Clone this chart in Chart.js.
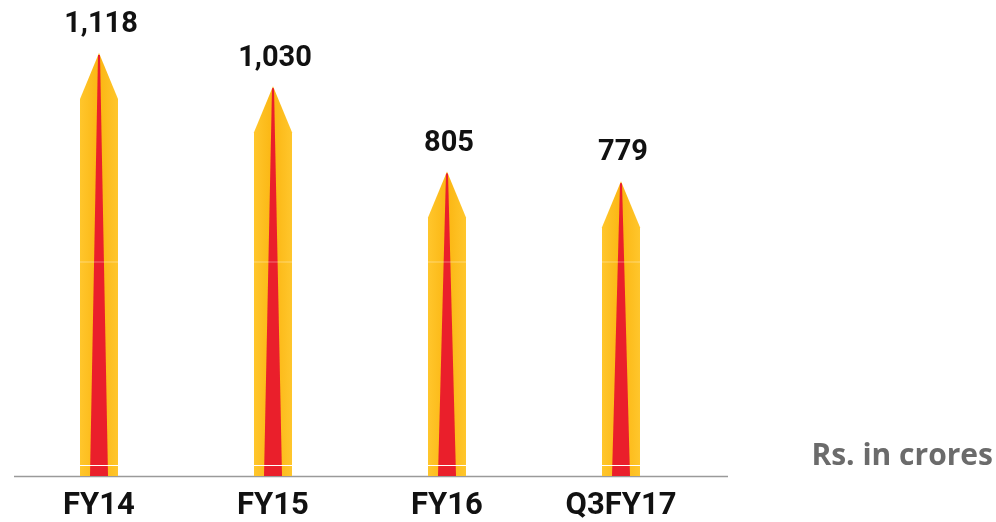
<!DOCTYPE html>
<html>
<head>
<meta charset="utf-8">
<script src="https://cdn.jsdelivr.net/npm/chart.js@4"></script>
<style>
  html, body { margin: 0; padding: 0; background: #fff; }
  #wrap { width: 996px; height: 522px; position: relative; }
</style>
</head>
<body>
<div id="wrap"><canvas id="myChart" width="996" height="522"></canvas></div>
<script>
var periods = ["FY14", "FY15", "FY16", "Q3FY17"];
var amounts = [1118, 1030, 805, 779];
var valueLabels = ["1,118", "1,030", "805", "779"];
var unitNote = "Rs. in crores";

// draws each bar as a pencil: yellow body, pointed top, red core
var pencilBars = {
    id: "pencilBars",
    afterDatasetsDraw: function (chart) {
        var ctx = chart.ctx;
        var meta = chart.getDatasetMeta(0);
        var area = chart.chartArea;
        ctx.save();
        // base line
        ctx.strokeStyle = "#9a9a9a";
        ctx.lineWidth = 1.5;
        ctx.beginPath();
        ctx.moveTo(14, area.bottom + 0.5);
        ctx.lineTo(728, area.bottom + 0.5);
        ctx.stroke();

        meta.data.forEach(function (bar, i) {
            var p = bar.getProps(["x", "y", "base", "width"], true);
            var half = p.width / 2;
            var tipH = 46;
            var shoulder = p.y + tipH;
            var left = p.x - half, right = p.x + half;

            var grad = ctx.createLinearGradient(left, 0, right, 0);
            grad.addColorStop(0, "#ffc62c");
            grad.addColorStop(0.5, "#fbb612");
            grad.addColorStop(1, "#ffc62c");
            ctx.fillStyle = grad;
            ctx.beginPath();
            ctx.moveTo(left, p.base);
            ctx.lineTo(left, shoulder);
            ctx.lineTo(p.x, p.y);
            ctx.lineTo(right, shoulder);
            ctx.lineTo(right, p.base);
            ctx.closePath();
            ctx.fill();

            // red core
            ctx.fillStyle = "#ea1f2b";
            ctx.beginPath();
            ctx.moveTo(p.x - 9, p.base);
            ctx.lineTo(p.x - 1, p.y + 2);
            ctx.lineTo(p.x + 1, p.y + 2);
            ctx.lineTo(p.x + 9, p.base);
            ctx.closePath();
            ctx.fill();

            // faint seam and white band near the bottom
            ctx.fillStyle = "rgba(255,255,255,0.18)";
            ctx.fillRect(left, 261, p.width, 2);
            ctx.fillStyle = "#ffffff";
            ctx.fillRect(left, p.base - 11, p.width, 1);

            // value label
            ctx.fillStyle = "#111";
            ctx.font = "bold 29px Roboto, 'DejaVu Sans', sans-serif";
            ctx.textAlign = "center";
            ctx.textBaseline = "middle";
            ctx.fillText(valueLabels[i], p.x + 2, p.y - 28);
        });

        ctx.fillStyle = "#6b6b6b";
        ctx.font = "bold 30px 'Open Sans', Roboto, sans-serif";
        ctx.textAlign = "right";
        ctx.textBaseline = "middle";
        ctx.fillText(unitNote, 993, 456);
        ctx.restore();
    }
};

new Chart("myChart", {
    type: "bar",
    data: {
        labels: periods,
        datasets: [{
            data: amounts,
            backgroundColor: "rgba(0,0,0,0)",
            barThickness: 38
        }]
    },
    options: {
        responsive: false,
        animation: false,
        layout: { padding: { left: 12, right: 288, top: 0, bottom: 0 } },
        plugins: {
            legend: { display: false },
            tooltip: { enabled: false }
        },
        scales: {
            x: {
                grid: { display: false, drawTicks: false },
                border: { display: false },
                ticks: {
                    color: "#111",
                    padding: 12,
                    font: { family: "Roboto", size: 31, weight: "bold" }
                },
                afterFit: function (scale) { scale.height = 46; }
            },
            y: {
                display: false,
                min: 0,
                max: 1258
            }
        }
    },
    plugins: [pencilBars]
});
</script>
</body>
</html>
